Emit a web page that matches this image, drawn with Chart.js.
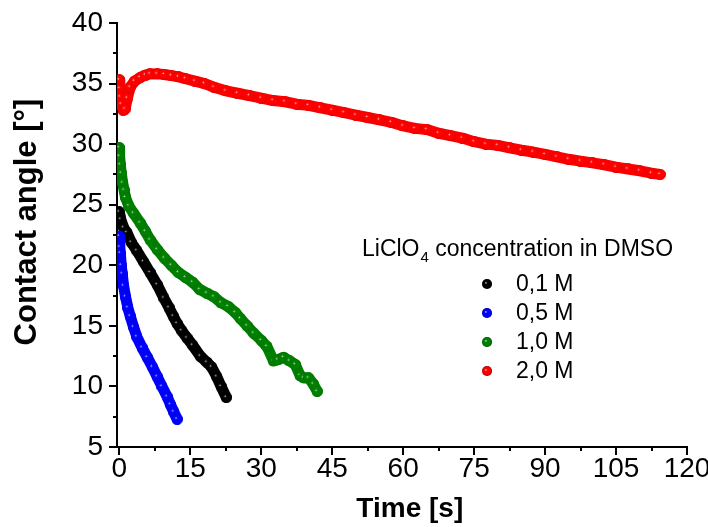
<!DOCTYPE html>
<html>
<head>
<meta charset="utf-8">
<script src="https://cdn.jsdelivr.net/npm/chart.js@4.4.1/dist/chart.umd.min.js"></script>
<style>
  html, body { margin: 0; padding: 0; background: #fff; }
</style>
</head>
<body>
<canvas id="chart" width="708" height="527"></canvas>
<script>
// Axis ticks
const xTicks = [0, 15, 30, 45, 60, 75, 90, 105, 120];
const yTicks = [5, 10, 15, 20, 25, 30, 35, 40];
const xMinor = [7.5, 22.5, 37.5, 52.5, 67.5, 82.5, 97.5, 112.5];
const yMinor = [7.5, 12.5, 17.5, 22.5, 27.5, 32.5, 37.5];

// Series labels / colours
const seriesLabels = ['0,1 M', '0,5 M', '1,0 M', '2,0 M'];
const seriesColors = ['#000000', '#0000ff', '#008000', '#ff0000'];

// 0,1 M
const time01 = [0, 0.3, 0.9, 1.6, 2.5, 3.7, 5.1, 6.5, 8, 9.4, 10.5, 11.4, 12.2, 13.2, 14.3, 15.5, 17.1, 18.5, 19.5, 20.6, 21.5, 22.6];
const angle01 = [24.4, 23.8, 23.1, 22.7, 21.9, 21.2, 20.3, 19.4, 18.4, 17.3, 16.5, 15.8, 15.2, 14.6, 14.0, 13.4, 12.5, 12.0, 11.6, 10.8, 10.0, 9.1];

// 0,5 M
const time05 = [0, 0.1, 0.2, 0.4, 0.6, 0.9, 1.3, 1.8, 2.3, 3.0, 3.7, 4.8, 5.9, 7.0, 8.0, 9.0, 10.1, 10.8, 11.5, 12.2];
const angle05 = [22.4, 21.5, 21.0, 20.0, 19.3, 18.3, 17.4, 16.5, 15.8, 14.9, 14.1, 13.2, 12.4, 11.6, 10.8, 10.0, 9.15, 8.5, 7.9, 7.3];

// 1,0 M
const time10 = [0, 0.05, 0.2, 0.4, 0.7, 1.0, 1.3, 2.0, 3.0, 4.4, 5.5, 6.5, 8, 9.5, 11, 12.5, 14, 15.5, 17, 18.5, 20, 21.5, 23, 24.5, 25.6, 27, 28.4, 30, 31.2, 32.6, 33.5, 34.7, 36, 37.2, 38.2, 39, 40, 41, 41.8];
const angle10 = [29.7, 29.0, 28.3, 27.6, 26.8, 26.2, 25.6, 24.9, 24.3, 23.5, 22.8, 22.1, 21.3, 20.6, 20.0, 19.4, 19.0, 18.6, 18.0, 17.7, 17.4, 16.9, 16.6, 16.1, 15.6, 15.0, 14.4, 13.8, 13.3, 12.1, 12.2, 12.4, 12.1, 11.8, 10.9, 10.7, 10.7, 10.2, 9.6];

// 2,0 M
const time20 = [0, 0.1, 0.2, 0.4, 0.8, 1.2, 1.7, 2.3, 3.2, 4.4, 5.5, 6.5, 8, 9.5, 11, 12.5, 14, 16, 18, 20, 22.5, 25, 27.5, 30, 32.5, 35, 37.5, 40, 42.5, 45, 47.5, 50, 52.5, 55, 57.5, 60, 62.5, 65, 67.5, 70, 72.5, 75, 77.5, 80, 82.5, 85, 87.5, 90, 92.5, 95, 97.5, 100, 102.5, 105, 107.5, 110, 112.5, 114.3];
const angle20 = [35.3, 34.6, 33.9, 33.3, 32.8, 32.9, 33.8, 34.7, 35.2, 35.5, 35.7, 35.8, 35.8, 35.75, 35.65, 35.55, 35.4, 35.2, 35.0, 34.7, 34.4, 34.2, 34.0, 33.8, 33.6, 33.5, 33.3, 33.2, 33.0, 32.8, 32.6, 32.4, 32.2, 32.0, 31.8, 31.5, 31.3, 31.2, 30.9, 30.7, 30.5, 30.2, 30.0, 29.9, 29.7, 29.5, 29.35, 29.15, 28.95, 28.75, 28.6, 28.45, 28.3, 28.1, 27.95, 27.8, 27.6, 27.5];

const FONT = "'Liberation Sans', Arial, sans-serif";

// shaded ball marker; rim = how dark the edge gets
function makeBall(color, size, rim) {
    const c = document.createElement('canvas');
    c.width = size;
    c.height = size;
    const g = c.getContext('2d');
    const r = size / 2;
    g.fillStyle = color;
    g.beginPath();
    g.arc(r, r, r, 0, Math.PI * 2);
    g.fill();
    const shade = g.createRadialGradient(r * 0.75, r * 0.75, 0, r, r, r);
    shade.addColorStop(0, 'rgba(255,255,255,0.9)');
    shade.addColorStop(0.25, 'rgba(255,255,255,0)');
    shade.addColorStop(0.75, 'rgba(0,0,0,0)');
    shade.addColorStop(1, 'rgba(0,0,0,' + rim + ')');
    g.fillStyle = shade;
    g.beginPath();
    g.arc(r, r, r, 0, Math.PI * 2);
    g.fill();
    return c;
}

const balls = seriesColors.map(c => makeBall(c, 11, 0.12));
const legendBalls = seriesColors.map(c => makeBall(c, 10, 0.45));

function toPoints(xs, ys) {
    return xs.map((x, i) => ({ x: x, y: ys[i] }));
}

const seriesData = [
    toPoints(time01, angle01),
    toPoints(time05, angle05),
    toPoints(time10, angle10),
    toPoints(time20, angle20)
];

const datasets = seriesData.map((d, i) => ({
    label: seriesLabels[i],
    data: d,
    showLine: true,
    borderColor: seriesColors[i],
    backgroundColor: seriesColors[i],
    borderWidth: 11,
    borderCapStyle: 'round',
    borderJoinStyle: 'round',
    pointStyle: balls[i],
    pointRadius: 5.5,
    order: 3 - i
}));

// minor ticks (shorter than the major ones)
const minorTicks = {
    id: 'minorTicks',
    afterDraw(chart) {
        const ctx = chart.ctx;
        const xs = chart.scales.x, ys = chart.scales.y;
        const area = chart.chartArea;
        ctx.save();
        ctx.strokeStyle = '#000';
        ctx.lineWidth = 2;
        ctx.beginPath();
        xMinor.forEach(v => {
            const px = Math.round(xs.getPixelForValue(v));
            ctx.moveTo(px, area.bottom);
            ctx.lineTo(px, area.bottom + 4);
        });
        yMinor.forEach(v => {
            const py = Math.round(ys.getPixelForValue(v));
            ctx.moveTo(area.left, py);
            ctx.lineTo(area.left - 4, py);
        });
        ctx.stroke();
        ctx.restore();
    }
};

// legend inside the plot, title with subscript
const insideLegend = {
    id: 'insideLegend',
    afterDraw(chart) {
        const ctx = chart.ctx;
        ctx.save();
        ctx.fillStyle = '#000';
        ctx.textBaseline = 'alphabetic';
        ctx.font = '23px ' + FONT;
        let x = 362;
        const base = 256;
        ctx.fillText('LiClO', x, base);
        x += ctx.measureText('LiClO').width;
        ctx.font = '15px ' + FONT;
        ctx.fillText('4', x + 1, base + 6);
        x += ctx.measureText('4').width + 1;
        ctx.font = '23px ' + FONT;
        ctx.fillText(' concentration in DMSO', x, base);

        ctx.textBaseline = 'middle';
        seriesLabels.forEach((lab, i) => {
            const y = 284 + i * 29;
            ctx.drawImage(legendBalls[i], 487 - 5, y - 5);
            ctx.fillText(lab, 516, y + 1);
        });
        ctx.restore();
    }
};

new Chart(document.getElementById('chart'), {
    type: 'scatter',
    data: { datasets: datasets },
    options: {
        responsive: false,
        animation: false,
        layout: { padding: { top: 23, right: 21, left: 0, bottom: 0 } },
        plugins: {
            legend: { display: false },
            tooltip: { enabled: false }
        },
        scales: {
            x: {
                type: 'linear',
                min: -0.5,
                max: 120,
                afterBuildTicks: s => { s.ticks = xTicks.map(v => ({ value: v })); },
                afterFit: s => { s.height = 80; s.paddingLeft = 0; s.paddingRight = 0; },
                border: { display: true, color: '#000', width: 2 },
                grid: { drawOnChartArea: false, drawTicks: true, tickLength: 8, color: '#000', lineWidth: 2 },
                ticks: {
                    color: '#000',
                    padding: 0,
                    autoSkip: false,
                    maxRotation: 0,
                    font: { family: FONT, size: 28, lineHeight: 1 },
                    callback: v => String(v)
                },
                title: {
                    display: true,
                    text: '  Time [s]',
                    color: '#000',
                    padding: { top: 0, bottom: 1 },
                    font: { family: FONT, size: 28, weight: 'bold' }
                }
            },
            y: {
                type: 'linear',
                min: 5,
                max: 40,
                afterBuildTicks: s => { s.ticks = yTicks.map(v => ({ value: v })); },
                afterFit: s => { s.width = 117; s.paddingTop = 0; s.paddingBottom = 0; },
                border: { display: true, color: '#000', width: 2 },
                grid: { drawOnChartArea: false, drawTicks: true, tickLength: 8, color: '#000', lineWidth: 2 },
                ticks: {
                    color: '#000',
                    padding: 6,
                    font: { family: FONT, size: 28 },
                    callback: v => String(v)
                },
                title: {
                    display: true,
                    text: '   Contact angle [°]',
                    color: '#000',
                    padding: { top: 9, bottom: 0 },
                    font: { family: FONT, size: 31, weight: 'bold' }
                }
            }
        }
    },
    plugins: [minorTicks, insideLegend]
});
</script>
</body>
</html>
